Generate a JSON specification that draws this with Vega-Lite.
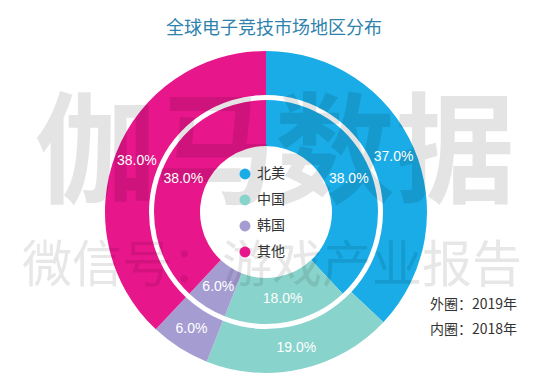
{
  "$schema": "https://vega.github.io/schema/vega-lite/v6.json",
  "width": 532,
  "height": 358,
  "autosize": "none",
  "padding": {"left": 0, "top": 33, "right": 18, "bottom": 0},
  "background": "white",
  "config": {"view": {"stroke": null}, "font": "Noto Sans CJK SC"},
  "title": {"text": "全球电子竞技市场地区分布", "fontSize": 18, "fontWeight": "normal", "color": "#2e82ac", "font": "Noto Sans CJK SC", "offset": 0, "dx": 8, "dy": 5, "anchor": "middle"},
  "datasets": {
    "shares": [
      {"ring": "外圈", "region": "北美", "rank": 1, "share": 0.37},
      {"ring": "外圈", "region": "中国", "rank": 2, "share": 0.19},
      {"ring": "外圈", "region": "韩国", "rank": 3, "share": 0.06},
      {"ring": "外圈", "region": "其他", "rank": 4, "share": 0.38},
      {"ring": "内圈", "region": "北美", "rank": 1, "share": 0.38},
      {"ring": "内圈", "region": "中国", "rank": 2, "share": 0.18},
      {"ring": "内圈", "region": "韩国", "rank": 3, "share": 0.06},
      {"ring": "内圈", "region": "其他", "rank": 4, "share": 0.38}
    ]
  },
  "layer": [
    {
      "data": {"name": "shares"},
      "transform": [{"filter": "datum.ring == '外圈'"}],
      "mark": {"type": "arc", "radius": 161, "radius2": 117},
      "encoding": {
        "theta": {"field": "share", "type": "quantitative", "stack": true},
        "order": {"field": "rank", "type": "quantitative"},
        "color": {
          "field": "region", "type": "nominal",
          "scale": {"domain": ["北美", "中国", "韩国", "其他"], "range": ["#19ace6", "#88d3cb", "#a59dd2", "#e8168b"]},
          "legend": {"title": null, "orient": "none", "legendX": 238, "legendY": 134, "symbolType": "circle", "symbolSize": 120, "symbolStrokeWidth": 0, "labelFontSize": 14, "labelColor": "#333333", "labelFont": "Noto Sans CJK SC", "rowPadding": 12, "labelOffset": 5, "padding": 0}
        }
      }
    },
    {
      "data": {"name": "shares"},
      "transform": [{"filter": "datum.ring == '内圈'"}],
      "mark": {"type": "arc", "radius": 112, "radius2": 66},
      "encoding": {
        "theta": {"field": "share", "type": "quantitative", "stack": true},
        "order": {"field": "rank", "type": "quantitative"},
        "color": {"field": "region", "type": "nominal"}
      }
    },
    {
      "data": {"values": [{"t": "伽马数据"}]},
      "mark": {"type": "text", "fontSize": 120, "fontWeight": "bold", "font": "Noto Sans CJK SC", "color": "#000000", "opacity": 0.1, "baseline": "middle", "align": "center", "dx": 9, "dy": -54},
      "encoding": {"text": {"field": "t"}}
    },
    {
      "data": {"values": [{"t": "微信号：游戏产业报告"}]},
      "mark": {"type": "text", "fontSize": 50, "fontWeight": "normal", "font": "Noto Sans CJK SC", "color": "#000000", "opacity": 0.09, "baseline": "middle", "align": "center", "dx": 6, "dy": 55},
      "encoding": {"text": {"field": "t"}}
    },
    {
      "data": {"name": "shares"},
      "transform": [{"filter": "datum.ring == '外圈'"}],
      "mark": {"type": "text", "radius": 139, "fontSize": 14, "color": "white", "font": "Liberation Sans"},
      "encoding": {
        "theta": {"field": "share", "type": "quantitative", "stack": true},
        "order": {"field": "rank", "type": "quantitative"},
        "text": {"field": "share", "type": "quantitative", "format": ".1%"}
      }
    },
    {
      "data": {"name": "shares"},
      "transform": [{"filter": "datum.ring == '内圈'"}],
      "mark": {"type": "text", "radius": 89, "fontSize": 14, "color": "white", "font": "Liberation Sans"},
      "encoding": {
        "theta": {"field": "share", "type": "quantitative", "stack": true},
        "order": {"field": "rank", "type": "quantitative"},
        "text": {"field": "share", "type": "quantitative", "format": ".1%"}
      }
    },
    {
      "data": {"values": [{"t": "外圈：2019年"}]},
      "mark": {"type": "text", "fontSize": 14, "font": "Noto Sans CJK SC", "color": "#333333", "align": "left", "baseline": "middle", "dx": 164, "dy": 93},
      "encoding": {"text": {"field": "t"}}
    },
    {
      "data": {"values": [{"t": "内圈：2018年"}]},
      "mark": {"type": "text", "fontSize": 14, "font": "Noto Sans CJK SC", "color": "#333333", "align": "left", "baseline": "middle", "dx": 164, "dy": 118},
      "encoding": {"text": {"field": "t"}}
    }
  ]
}
